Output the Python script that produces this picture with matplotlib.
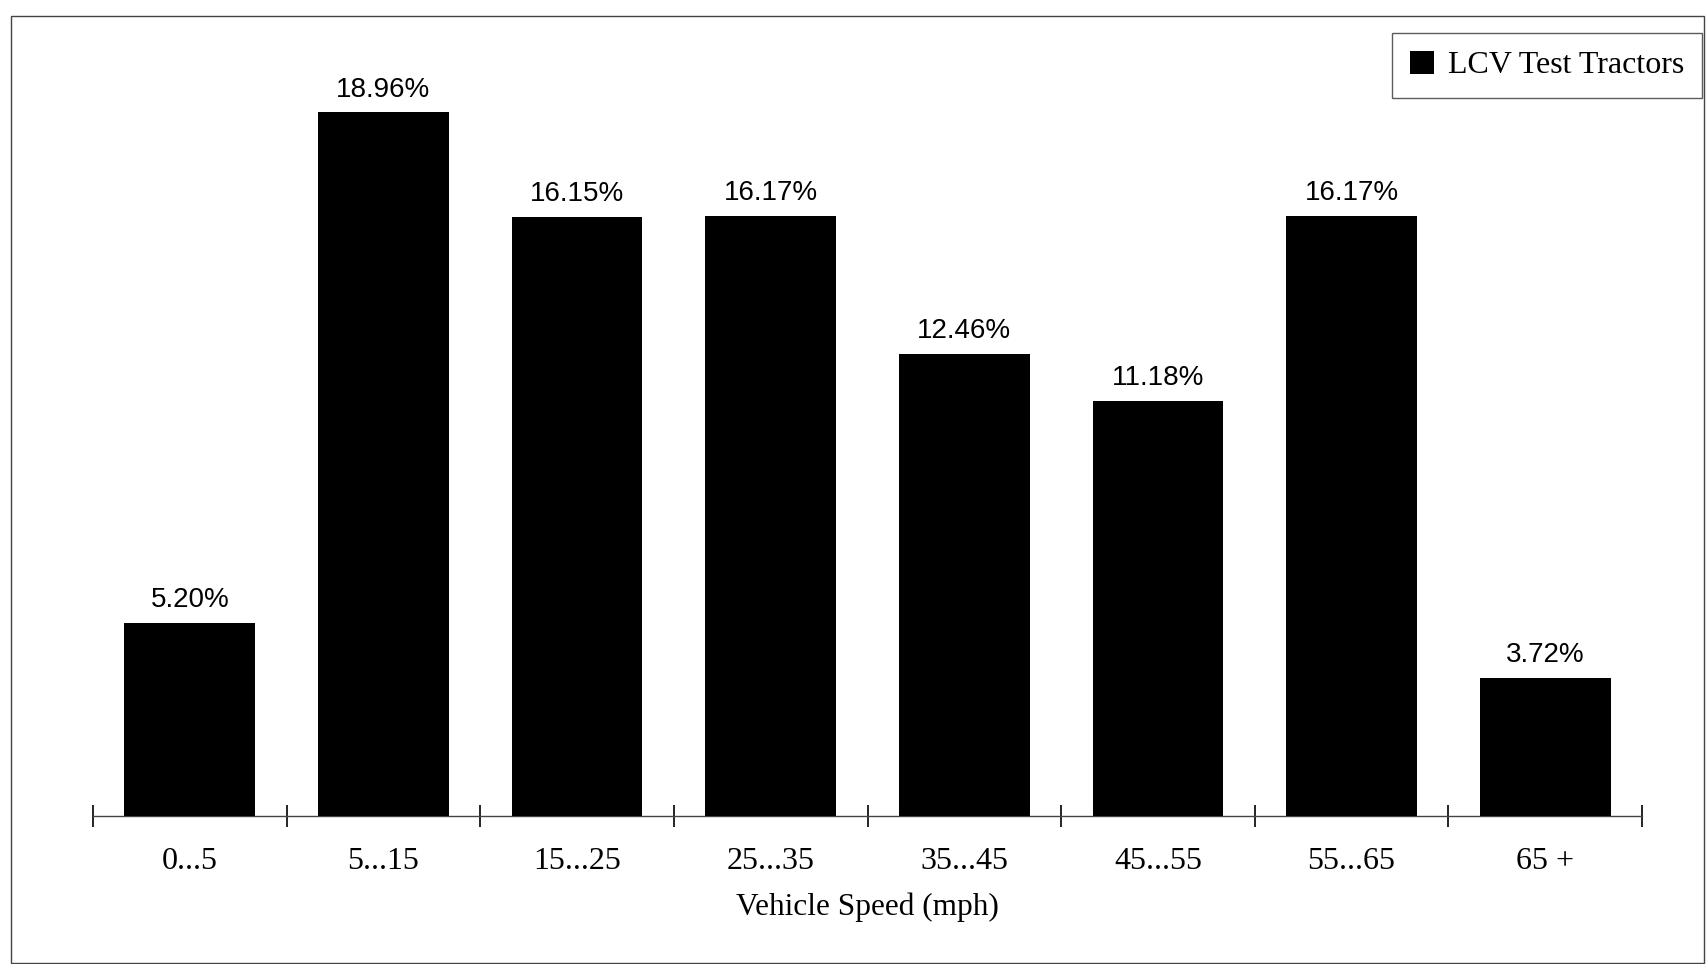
import numpy as np
import matplotlib
matplotlib.use("Agg")
import matplotlib.pyplot as plt
from matplotlib.patches import Rectangle

# speed bins and share of time (%) for the LCV test tractors
speed_bins = ["0...5", "5...15", "15...25", "25...35", "35...45", "45...55", "55...65", "65 +"]
share = [5.20, 18.96, 16.15, 16.17, 12.46, 11.18, 16.17, 3.72]
series_name = "LCV Test Tractors"

W, H = 1707, 964
fig = plt.figure(figsize=(W / 100, H / 100), dpi=100)

# axes placed in pixel coordinates of the figure
left, right, bottom, top = 93, 1642, 816, 59
ax = fig.add_axes([left / W, 1 - bottom / H, (right - left) / W, (bottom - top) / H])

x = np.arange(len(speed_bins))
bars = ax.bar(x, share, width=0.675, color="black", label=series_name, zorder=3)

for xi, v in zip(x, share):
    ax.annotate(f"{v:.2f}%", (xi, v), xytext=(0, 7), textcoords="offset points",
                ha="center", va="bottom", fontsize=20, family="Liberation Sans")

ax.set_xlim(-0.5, len(speed_bins) - 0.5)
ax.set_ylim(0, 20.4)

# tick marks on bin edges, labels at bin centers
ax.set_xticks(np.arange(-0.5, len(speed_bins)), minor=False)
ax.set_xticklabels([])
ax.tick_params(axis="x", which="major", direction="inout", length=16, width=1.2, color="black")
ax.set_xticks(x, minor=True)
ax.set_xticklabels(speed_bins, minor=True, fontsize=23, family="Liberation Serif")
ax.tick_params(axis="x", which="minor", length=0, pad=22)
ax.set_yticks([])

for s in ["left", "right", "top"]:
    ax.spines[s].set_visible(False)
ax.spines["bottom"].set_linewidth(1)
ax.spines["bottom"].set_color("#444444")

ax.set_xlabel("Vehicle Speed (mph)", fontsize=22.5, family="Liberation Serif", labelpad=12)

leg = ax.legend(loc="upper right", bbox_to_anchor=((1702 - left) / (right - left), 1 + (top - 33) / (bottom - top)),
                prop={"family": "Liberation Serif", "size": 23}, fancybox=False, frameon=True,
                handlelength=0.75, handleheight=0.75, handletextpad=0.45, borderpad=0.55,
                borderaxespad=0)
leg.get_frame().set_edgecolor("#333333")
leg.get_frame().set_linewidth(1)

# outer frame of the scanned page
fig.patches.append(Rectangle((11 / W, 1 - 963 / H), (1704 - 11) / W, (963 - 16) / H,
                             transform=fig.transFigure, fill=False, edgecolor="#444444", linewidth=1))

fig.savefig("out.png", dpi=100, facecolor="white")
